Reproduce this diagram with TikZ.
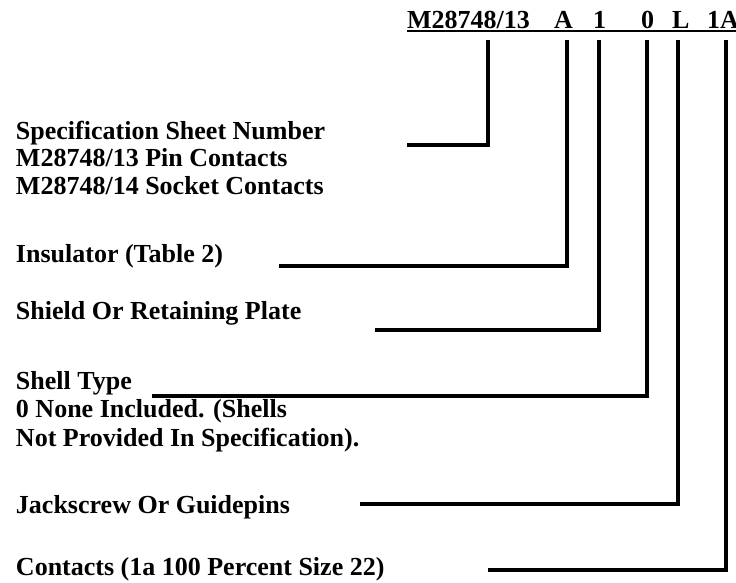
\documentclass[tikz,border=0pt]{standalone}
\usepackage{fontspec}
\setmainfont{Liberation Serif}
\begin{document}
\begin{tikzpicture}[x=1pt,y=1pt,
  lbl/.style={anchor=base west, inner sep=0pt, outer sep=0pt, font=\fontsize{26}{28}\selectfont\bfseries},
  lead/.style={line width=4pt, line join=miter}]
\useasboundingbox (0,0) rectangle (736,-582);
% header
\node[lbl] (hM) at (407,-28) {M28748/13};
\node[lbl] (hA) at (554,-28) {A};
\node[lbl] (h1) at (593,-28) {1};
\node[lbl] (h0) at (641,-28) {0};
\node[lbl] (hL) at (672,-28) {L};
\node[lbl] (h1A) at (707,-28) {1A};
\coordinate (ulS) at (407,-30.8);
\coordinate (ulE) at (736,-30.8);
\draw[line width=1.6pt] (ulS) -- (ulE);
% labels
\node[lbl] (s1) at (16,-139) {Specification Sheet Number};
\node[lbl] (s2) at (16,-166.5) {M28748/13 Pin Contacts};
\node[lbl] (s3) at (16,-194) {M28748/14 Socket Contacts};
\node[lbl] (ins) at (16,-262) {Insulator (Table 2)};
\node[lbl] (shd) at (16,-319) {Shield Or Retaining Plate};
\node[lbl] (st1) at (16,-389) {Shell Type};
\node[lbl] (st2) at (16,-417.5) {0 None Included. (Shells};
\node[lbl] (st3) at (16,-446) {Not Provided In Specification).};
\node[lbl] (jk) at (16,-513) {Jackscrew Or Guidepins};
\node[lbl] (ct) at (16,-575) {Contacts (1a 100 Percent Size 22)};
% leader coordinates
\coordinate (tM) at (487.5,-40);  \coordinate (eM) at (407,-145);
\coordinate (tA) at (567,-40);    \coordinate (eA) at (279,-266);
\coordinate (t1) at (599,-40);    \coordinate (e1) at (375,-330);
\coordinate (t0) at (647,-40);    \coordinate (e0) at (152,-396);
\coordinate (tL) at (678,-40);    \coordinate (eL) at (360,-504);
\coordinate (t1A) at (726,-40);   \coordinate (e1A) at (488,-570);
\draw[lead] (tM) |- (eM);
\draw[lead] (tA) |- (eA);
\draw[lead] (t1) |- (e1);
\draw[lead] (t0) |- (e0);
\draw[lead] (tL) |- (eL);
\draw[lead] (t1A) |- (e1A);
\end{tikzpicture}
\end{document}
